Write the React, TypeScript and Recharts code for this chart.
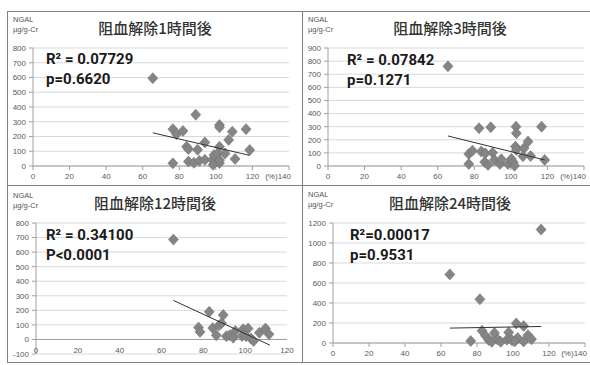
import React from 'react';
import { ScatterChart, Scatter, XAxis, YAxis, CartesianGrid, ReferenceLine } from 'recharts';

// x = recovery rate (%), y = urinary NGAL (µg/g-Cr)
const hour1X = [65.5, 76.5, 78.5, 82, 89, 102, 102, 109, 116.5, 107, 94, 84, 85, 90, 102, 118.5, 76.5, 85, 88, 91, 94, 98, 99, 101, 98.5, 102, 102, 105, 110.5];
const hour1Y = [595, 250, 215, 238, 348, 278, 262, 233, 250, 177, 160, 130, 115, 110, 130, 108, 18, 30, 22, 35, 42, 42, 75, 85, 8, 20, 40, 85, 48];
const hour1TrendX = [65.5, 118.5];
const hour1TrendY = [225, 72];

const hour3X = [65.6, 82.6, 89, 102.8, 103, 116.8, 77, 79, 77, 83.8, 86, 90, 85.7, 87.5, 91, 94, 94.8, 98.4, 100.3, 101.3, 102, 102.5, 103, 107.2, 109.4, 106.6, 110.8, 118.5];
const hour3Y = [760, 288, 296, 300, 250, 300, 92, 117, 15, 110, 97, 102, 30, 8, 46, 15, 51, 15, 54, 28, 2, 148, 122, 135, 186, 75, 76, 46];
const hour3TrendX = [65.6, 118.5];
const hour3TrendY = [229, 46];

const hour12X = [65.7, 82.8, 89.5, 77.7, 78.4, 84.5, 86.2, 87.4, 88.7, 91, 92.5, 94.3, 95.3, 99, 101.4, 98.5, 100.5, 102.8, 104, 106.8, 109.7, 111.4];
const hour12Y = [686, 190, 168, 82, 52, 78, 28, 95, 112, 22, 28, 12, 58, 70, 75, 23, 22, 6, -10, 46, 75, 36];
const hour12TrendX = [65.7, 111.8];
const hour12TrendY = [268, -39];

const hour24X = [115.6, 64.9, 81.6, 76.5, 82.8, 84.7, 86.5, 89.7, 88.2, 91.5, 93.2, 97.6, 96.6, 99.3, 101.8, 102.6, 105.9, 105.9, 108.3, 110.3, 101.1];
const hour24Y = [1134, 686, 437, 20, 122, 72, 30, 100, 12, 35, 12, 106, 33, 30, 196, 50, 170, 15, 78, 38, 18];
const hour24TrendX = [64.9, 115.6];
const hour24TrendY = [149, 165];

const xTicks140 = [0, 20, 40, 60, 80, 100, 120, 140];
const xTicks120 = [0, 20, 40, 60, 80, 100, 120];
const yTicks800 = [0, 100, 200, 300, 400, 500, 600, 700, 800];
const yTicks900 = [0, 100, 200, 300, 400, 500, 600, 700, 800, 900];
const yTicks12h = [-100, 0, 100, 200, 300, 400, 500, 600, 700, 800];
const yTicks1200 = [0, 200, 400, 600, 800, 1000, 1200];

const LABEL_FONT = '"Liberation Sans", Arial, sans-serif';
const TITLE_FONT = '"Noto Sans CJK JP", "Noto Sans", sans-serif';
const STAT_FONT = 'Roboto, "Noto Sans", sans-serif';

const pairs = (xs: number[], ys: number[]) => xs.map((x, i) => ({ x, y: ys[i] }));

const Diamond = (props: any) => {
  const { cx, cy } = props;
  if (cx == null || cy == null) return <g />;
  return (
    <polygon
      points={`${cx},${cy - 5.5} ${cx + 5},${cy} ${cx},${cy + 5.5} ${cx - 5},${cy}`}
      fill="#858585"
      stroke="#727272"
      strokeWidth={0.6}
    />
  );
};

const NoDot = () => <g />;

type PanelProps = {
  left: number;
  top: number;
  width: number;
  height: number;
  title: string;
  r2: string;
  p: string;
  xs: number[];
  ys: number[];
  trendX: number[];
  trendY: number[];
  xTicks: number[];
  yTicks: number[];
  marginTop: number;
  marginRight: number;
  yAxisWidth: number;
  xAxisHeight: number;
  insideX?: boolean;
  unitTop: number;
  titleTop: number;
  statLeft: number;
  statTop: number;
};

const Panel = (props: PanelProps) => {
  const {
    left, top, width, height, title, r2, p, xs, ys, trendX, trendY, xTicks, yTicks,
    marginTop, marginRight, yAxisWidth, xAxisHeight, insideX, unitTop, titleTop, statLeft, statTop,
  } = props;
  const points = pairs(xs, ys);
  const trend = pairs(trendX, trendY);
  const xMax = xTicks[xTicks.length - 1];

  const renderXTick = (t: any) => {
    const v = t.payload.value;
    const y = insideX ? t.y - 3 : t.y + 5;
    if (v === 140) {
      return (
        <text x={t.x + 2} y={y} textAnchor="end" dominantBaseline="middle" fontSize={8} fill="#595959" fontFamily={LABEL_FONT}>
          (%)140
        </text>
      );
    }
    return (
      <text x={t.x} y={y} textAnchor="middle" dominantBaseline="middle" fontSize={8} fill="#595959" fontFamily={LABEL_FONT}>
        {v}
      </text>
    );
  };

  return (
    <div style={{ position: 'absolute', left, top, width, height }}>
      <ScatterChart
        width={width}
        height={height}
        margin={{ top: marginTop, right: marginRight, bottom: 0, left: 0 }}
      >
        <CartesianGrid vertical={false} stroke="#d9d9d9" />
        <XAxis
          type="number"
          dataKey="x"
          domain={[0, xMax]}
          ticks={xTicks}
          height={xAxisHeight}
          axisLine={insideX ? false : { stroke: '#a0a0a0' }}
          tickLine={insideX ? false : { stroke: '#a0a0a0' }}
          tickSize={insideX ? 0 : 4}
          tickMargin={insideX ? 0 : 2}
          tick={renderXTick}
          interval={0}
        />
        <YAxis
          type="number"
          dataKey="y"
          domain={[yTicks[0], yTicks[yTicks.length - 1]]}
          ticks={yTicks}
          width={yAxisWidth}
          axisLine={{ stroke: '#a0a0a0' }}
          tickLine={{ stroke: '#a0a0a0' }}
          tickSize={4}
          tickMargin={3}
          tick={{ fontSize: 8, fill: '#595959', fontFamily: LABEL_FONT }}
          interval={0}
        />
        {insideX && <ReferenceLine y={0} stroke="#a0a0a0" />}
        <Scatter data={points} shape={Diamond} isAnimationActive={false} />
        <Scatter
          data={trend}
          shape={NoDot}
          line={{ stroke: '#333333', strokeWidth: 1 }}
          isAnimationActive={false}
        />
      </ScatterChart>
      <div style={{ position: 'absolute', left: 6, top: unitTop, fontFamily: LABEL_FONT, fontSize: 7.5, color: '#555', lineHeight: '10px' }}>
        NGAL
        <br />
        µg/g-Cr
      </div>
      <div
        style={{
          position: 'absolute', left: 0, width: 296, top: titleTop, textAlign: 'center',
          fontFamily: TITLE_FONT, fontSize: 15, color: '#333', lineHeight: '20px', fontWeight: 500,
        }}
      >
        {title}
      </div>
      <div
        style={{
          position: 'absolute', left: statLeft, top: statTop, fontFamily: STAT_FONT, fontWeight: 700,
          fontSize: 15, color: '#1a1a1a', lineHeight: '20px', whiteSpace: 'nowrap',
        }}
      >
        {r2}
        <br />
        {p}
      </div>
    </div>
  );
};

const line = (left: number, top: number, width: number, height: number) => (
  <div style={{ position: 'absolute', left, top, width, height, background: '#808080' }} />
);

export default function App() {
  return (
    <div style={{ position: 'fixed', left: 0, top: 0, width: 590, height: 365, background: '#fff', overflow: 'hidden' }}>
      <Panel
        left={7} top={12} width={295} height={173}
        title="阻血解除1時間後" r2="R² = 0.07729" p="p=0.6620"
        xs={hour1X} ys={hour1Y} trendX={hour1TrendX} trendY={hour1TrendY}
        xTicks={xTicks140} yTicks={yTicks800}
        marginTop={36} marginRight={13} yAxisWidth={26} xAxisHeight={19}
        unitTop={3} titleTop={6} statLeft={39} statTop={37}
      />
      <Panel
        left={302} top={12} width={288} height={173}
        title="阻血解除3時間後" r2="R² = 0.07842" p="p=0.1271"
        xs={hour3X} ys={hour3Y} trendX={hour3TrendX} trendY={hour3TrendY}
        xTicks={xTicks140} yTicks={yTicks900}
        marginTop={36} marginRight={6} yAxisWidth={26} xAxisHeight={19}
        unitTop={3} titleTop={6} statLeft={45} statTop={38}
      />
      <Panel
        left={7} top={185} width={295} height={178}
        title="阻血解除12時間後" r2="R² = 0.34100" p="P<0.0001"
        xs={hour12X} ys={hour12Y} trendX={hour12TrendX} trendY={hour12TrendY}
        xTicks={xTicks120} yTicks={yTicks12h}
        marginTop={38} marginRight={15} yAxisWidth={29} xAxisHeight={9} insideX
        unitTop={6} titleTop={8} statLeft={39} statTop={40}
      />
      <Panel
        left={302} top={185} width={288} height={178}
        title="阻血解除24時間後" r2="R²=0.00017" p="p=0.9531"
        xs={hour24X} ys={hour24Y} trendX={hour24TrendX} trendY={hour24TrendY}
        xTicks={xTicks140} yTicks={yTicks1200}
        marginTop={38} marginRight={5} yAxisWidth={31} xAxisHeight={20}
        unitTop={5} titleTop={8} statLeft={48} statTop={40}
      />
      {line(7, 11, 583, 1)}
      {line(7, 11, 1, 352)}
      {line(302, 11, 1, 352)}
      {line(7, 185, 583, 1)}
      {line(7, 362, 583, 1)}
    </div>
  );
}
